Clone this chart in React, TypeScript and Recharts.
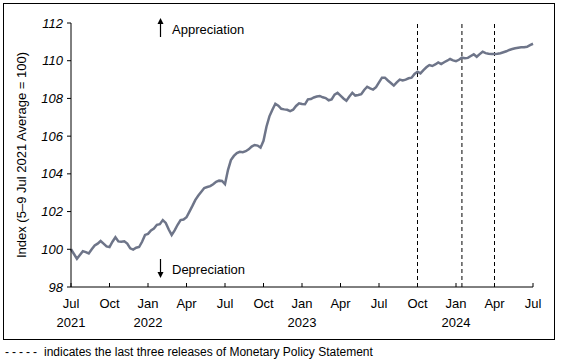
import React from 'react';
import { LineChart, Line, XAxis, YAxis, ReferenceLine } from 'recharts';

// weekly index, week 0 = 5–9 Jul 2021
const weeklyIndex = [
  100.0, 99.75, 99.5, 99.7, 99.9, 99.85, 99.78, 100.0, 100.2, 100.3, 100.44, 100.3, 100.15, 100.12,
  100.4, 100.64, 100.42, 100.4, 100.42, 100.3, 100.05, 99.98, 100.08, 100.12, 100.4, 100.76, 100.82,
  101.0, 101.1, 101.3, 101.33, 101.55, 101.4, 101.05, 100.76, 101.0, 101.3, 101.55, 101.58, 101.7,
  102.0, 102.3, 102.62, 102.85, 103.05, 103.25, 103.3, 103.35, 103.45, 103.58, 103.64, 103.62,
  103.45, 104.2, 104.73, 104.95,
  105.1, 105.17, 105.15, 105.2, 105.3, 105.45, 105.53, 105.5, 105.39, 105.75, 106.5, 107.05, 107.4,
  107.72, 107.62, 107.45, 107.42, 107.4, 107.33, 107.4, 107.6, 107.74, 107.7, 107.69, 107.95, 107.97,
  108.05, 108.1, 108.13,
  108.06, 108.02, 107.9, 107.95, 108.2, 108.3, 108.15, 108.0, 107.88, 108.1, 108.3, 108.15, 108.18,
  108.22, 108.45, 108.62, 108.53, 108.47, 108.6, 108.85, 109.1, 109.1, 108.95, 108.82, 108.68, 108.85,
  109.0, 108.95, 109.0, 109.07,
  109.1, 109.3, 109.42, 109.33, 109.5, 109.65, 109.77, 109.72, 109.8, 109.91, 109.82, 109.92, 110.0,
  110.09, 110.02, 109.98, 110.05, 110.16, 110.13, 110.15, 110.25, 110.34, 110.21, 110.35, 110.48,
  110.4, 110.37, 110.35, 110.35, 110.37, 110.4, 110.45, 110.5, 110.57, 110.62, 110.66, 110.69,
  110.71, 110.72, 110.74, 110.83, 110.9,
];

const tickWeeks = [0, 13, 26, 39, 52, 65, 78, 91, 104, 117, 130, 143, 156];
const tickMonths = ['Jul', 'Oct', 'Jan', 'Apr', 'Jul', 'Oct', 'Jan', 'Apr', 'Jul', 'Oct', 'Jan', 'Apr', 'Jul'];
const tickYears = ['2021', '', '2022', '', '', '', '2023', '', '', '', '2024', '', ''];
const yTicks = [98, 100, 102, 104, 106, 108, 110, 112];

// weeks of the last three Monetary Policy Statement releases
const mpsWeeks = [117, 132, 143];

const data = weeklyIndex.map((v, i) => ({ week: i, index: v }));

const font = '"Liberation Sans", Arial, sans-serif';

const MonthTick = (props: any) => {
  const { x, y, payload } = props;
  const i = tickWeeks.indexOf(payload.value);
  return (
    <g>
      <line x1={x} x2={x} y1={y} y2={y - 4} stroke="#000" />
      <text x={x} y={y + 21} textAnchor="middle" fontSize={13} fontFamily={font} fill="#000">
        {tickMonths[i]}
      </text>
      {tickYears[i] && (
        <text x={x} y={y + 40} textAnchor="middle" fontSize={13} fontFamily={font} fill="#000">
          {tickYears[i]}
        </text>
      )}
    </g>
  );
};

export default function App() {
  return (
    <div style={{ position: 'relative', width: 562, height: 361, background: '#fff', fontFamily: font }}>
      <style>{'body{margin:0}'}</style>
      <div
        style={{
          position: 'absolute', left: 3, top: 3, width: 550, height: 335,
          border: '1px solid #000',
        }}
      />
      <div style={{ position: 'absolute', left: 0, top: 0 }}>
        <LineChart width={562} height={340} data={data} margin={{ top: 23, right: 29, left: 21, bottom: 13 }}>
          <XAxis
            dataKey="week"
            type="number"
            domain={[0, 156]}
            ticks={tickWeeks}
            interval={0}
            tick={<MonthTick />}
            tickLine={false}
            tickSize={0}
            tickMargin={0}
            height={40}
            axisLine={{ stroke: '#000' }}
          />
          <YAxis
            domain={[98, 112]}
            ticks={yTicks}
            interval={0}
            width={50}
            tickSize={4}
            tickMargin={4}
            axisLine={{ stroke: '#000' }}
            tickLine={{ stroke: '#000' }}
            tick={{ fill: '#000', fontSize: 13, fontStyle: 'italic', fontFamily: font }}
          />
          {mpsWeeks.map((w) => (
            <ReferenceLine key={w} x={w} stroke="#000" strokeDasharray="4 3" strokeWidth={1} />
          ))}
          <Line
            type="linear"
            dataKey="index"
            stroke="#6e7589"
            strokeWidth={2.5}
            dot={false}
            isAnimationActive={false}
          />
        </LineChart>
      </div>
      <svg width={562} height={361} style={{ position: 'absolute', left: 0, top: 0, pointerEvents: 'none' }}>
        <text
          transform="translate(26,155) rotate(-90)"
          textAnchor="middle"
          fontSize={13}
          fontFamily={font}
          fill="#000"
        >
          Index (5–9 Jul 2021 Average = 100)
        </text>
        <line x1={160.5} x2={160.5} y1={22} y2={37} stroke="#000" strokeWidth={1.2} />
        <path d="M157.5,24 L160.5,18 L163.5,24 Z" fill="#000" />
        <text x={172} y={34} fontSize={13} fontFamily={font} fill="#000">Appreciation</text>
        <line x1={160.5} x2={160.5} y1={259} y2={274} stroke="#000" strokeWidth={1.2} />
        <path d="M157.5,272 L160.5,278 L163.5,272 Z" fill="#000" />
        <text x={172} y={274} fontSize={13} fontFamily={font} fill="#000">Depreciation</text>
        <text x={5} y={356} fontSize={12} fontFamily={font} fill="#000">
          <tspan letterSpacing={3}>-----</tspan>
          <tspan x={44}>indicates the last three releases of Monetary Policy Statement</tspan>
        </text>
      </svg>
    </div>
  );
}
